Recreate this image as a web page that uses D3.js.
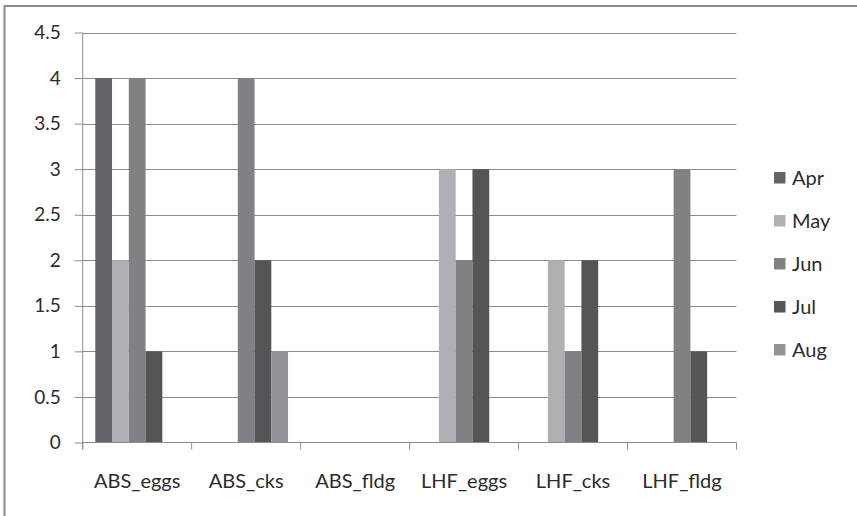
<!DOCTYPE html>
<meta charset="utf-8">
<style>
body { margin: 0; background: #fff; }
svg text { font-family: Lato, "Open Sans", sans-serif; fill: #2b2b2b; }
.grid line { stroke: #8c8c8c; stroke-width: 1px; }
.axis path, .axis line { stroke: #8c8c8c; }
</style>
<body>
<svg id="chart" width="857" height="516"></svg>
<script src="https://cdn.jsdelivr.net/npm/d3@7"></script>
<script>
var categories = ["ABS_eggs", "ABS_cks", "ABS_fldg", "LHF_eggs", "LHF_cks", "LHF_fldg"];
var months = ["Apr", "May", "Jun", "Jul", "Aug"];
var colors = ["#636468", "#afb0b3", "#808185", "#545557", "#939497"];
// values by month, one entry per category
var apr = [4, 0, 0, 0, 0, 0];
var may = [2, 0, 0, 3, 2, 0];
var jun = [4, 4, 0, 2, 1, 3];
var jul = [1, 2, 0, 3, 2, 1];
var aug = [0, 1, 0, 0, 0, 0];
var yTicks = [0, 0.5, 1, 1.5, 2, 2.5, 3, 3.5, 4, 4.5];

var series = [apr, may, jun, jul, aug];

var svg = d3.select("#chart");

// outer frame (right and bottom edges fall outside the picture)
svg.append("rect")
  .attr("x", 4.5).attr("y", 6)
  .attr("width", 900).attr("height", 600)
  .attr("fill", "none").attr("stroke", "#8a8a8a").attr("stroke-width", 2);

var plotL = 82.7, plotR = 736.5, plotT = 32.5, plotB = 442.5;

var x0 = d3.scaleBand().domain(categories).range([plotL, plotR]).paddingInner(0).paddingOuter(0);
// 5 bars + gap of 1.5 bar widths per category
var bw = x0.bandwidth() / 6.5;
var x1 = d3.scaleBand().domain(months).range([0.75 * bw, 5.75 * bw]);
var y = d3.scaleLinear().domain([0, 4.5]).range([plotB, plotT]);

// gridlines
svg.append("g").attr("class", "grid")
  .selectAll("line").data(yTicks.slice(1)).enter().append("line")
  .attr("x1", plotL).attr("x2", plotR)
  .attr("y1", function(d) { return Math.round(y(d)) + 0.5; })
  .attr("y2", function(d) { return Math.round(y(d)) + 0.5; });

// bars
months.forEach(function(m, i) {
  svg.append("g").selectAll("rect").data(series[i]).enter().append("rect")
    .attr("x", function(d, j) { return x0(categories[j]) + x1(m); })
    .attr("width", x1.bandwidth())
    .attr("y", function(d) { return y(d); })
    .attr("height", function(d) { return plotB - y(d); })
    .attr("fill", colors[i]);
});

// y axis
var yAxis = d3.axisLeft(y).tickValues(yTicks).tickSize(8).tickPadding(14)
  .tickFormat(function(d) { return d; });
var gy = svg.append("g").attr("class", "axis").attr("transform", "translate(" + plotL + ",0)").call(yAxis);
gy.selectAll("text").style("font-size", "19px");
gy.select(".domain").remove();
gy.append("line").attr("x1", 0).attr("x2", 0).attr("y1", plotT).attr("y2", plotB + 7).attr("stroke", "#8c8c8c");

// x axis
var gx = svg.append("g").attr("class", "axis").attr("transform", "translate(0," + plotB + ")");
gx.append("line").attr("x1", plotL).attr("x2", plotR).attr("y1", 0).attr("y2", 0).attr("stroke", "#8c8c8c");
gx.selectAll(".tk").data(categories.concat(["end"])).enter().append("line")
  .attr("x1", function(d, i) { return plotL + i * x0.bandwidth(); })
  .attr("x2", function(d, i) { return plotL + i * x0.bandwidth(); })
  .attr("y1", 0).attr("y2", 7).attr("stroke", "#8c8c8c");
gx.selectAll("text").data(categories).enter().append("text")
  .attr("x", function(d) { return x0(d) + x0.bandwidth() / 2; })
  .attr("y", 45)
  .attr("text-anchor", "middle")
  .style("font-size", "20px")
  .text(function(d) { return d; });

// legend
var legend = svg.append("g").attr("transform", "translate(774,172)");
var items = legend.selectAll("g").data(months).enter().append("g")
  .attr("transform", function(d, i) { return "translate(0," + i * 43 + ")"; });
items.append("rect").attr("width", 11.5).attr("height", 11.5)
  .attr("fill", function(d, i) { return colors[i]; });
items.append("text").attr("x", 18).attr("y", 12.5).style("font-size", "20px")
  .text(function(d) { return d; });
</script>
</body>
